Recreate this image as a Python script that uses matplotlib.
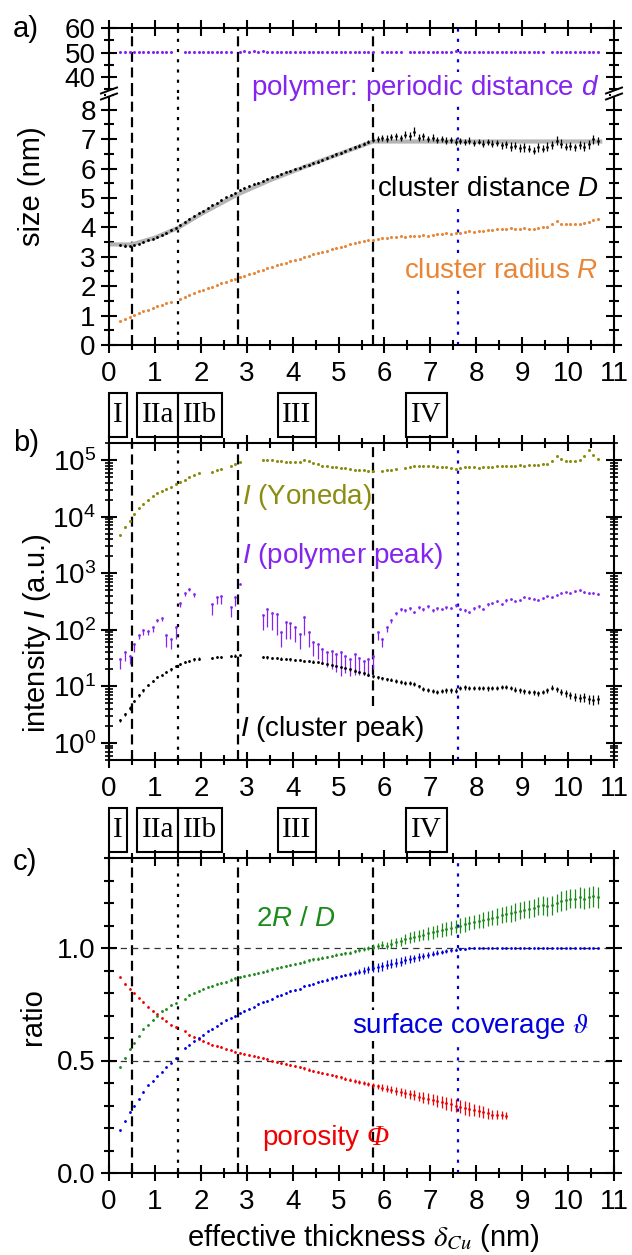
import numpy as np
import matplotlib
matplotlib.use("Agg")
import matplotlib.pyplot as plt
from matplotlib.patches import Rectangle
from matplotlib.lines import Line2D
from matplotlib.transforms import blended_transform_factory
from matplotlib.ticker import MultipleLocator, LogLocator, NullFormatter

plt.rcParams['font.family'] = ['Liberation Sans', 'DejaVu Sans']
plt.rcParams['mathtext.fontset'] = 'custom'
plt.rcParams['mathtext.rm'] = 'Liberation Sans'
plt.rcParams['mathtext.it'] = 'Liberation Sans:italic'
plt.rcParams['mathtext.bf'] = 'Liberation Sans:bold'

nan = np.nan

# effective thickness grid (nm), one row of values = 1 nm
thickness = np.round(np.arange(0.25, 10.7, 0.1), 2)

# a) sizes (nm)
poly_d = [50.3, 50.4, 50.3, 50.2, 50.3, 50.4, 50.3, 50.3, 50.2, 50.3,
          50.4, 50.3, nan, nan, 50.3, 50.4, 50.3, 50.2, 50.3, 50.4,
          50.3, 50.3, 50.4, 50.3, 50.4, nan, 50.4, 50.6, 50.4, 50.5,
          50.4, 50.5, 50.4, 50.3, 50.4, 50.3, 50.4, 50.3, 50.3, 50.4,
          50.3, 50.3, 50.4, 50.3, 50.3, 50.4, 50.3, 50.3, 50.3, 50.4,
          50.3, 50.3, 50.3, 50.4, 50.3, 50.3, nan, 50.4, 50.3, 50.3,
          50.3, 50.3, nan, 50.3, 50.3, 50.4, 50.3, 50.3, 50.4, 50.3,
          50.3, 50.3, 50.4, 50.5, 50.3, 50.4, 50.3, 50.4, 50.3, 50.4,
          50.3, 50.4, 50.3, 50.3, 50.4, 50.3, 50.3, 50.4, 50.3, 50.3,
          50.4, 50.3, 50.3, nan, 50.4, 50.3, 50.3, 50.4, 50.3, 50.3,
          50.4, 50.3, 50.3, 50.4, 50.3]

dist_D = [3.40, 3.38, 3.36, 3.40, 3.45, 3.50, 3.56, 3.62, 3.68, 3.74,
          3.82, 3.90, 3.98, 4.08, 4.18, 4.28, 4.38, 4.48, 4.57, 4.66,
          4.75, 4.84, 4.93, 5.02, 5.10, 5.18, 5.26, 5.33, 5.40, 5.46,
          5.52, 5.58, 5.64, 5.70, 5.76, 5.82, 5.88, 5.93, 5.98, 6.03,
          6.08, 6.13, 6.18, 6.24, 6.30, 6.36, 6.42, 6.48, 6.54, 6.60,
          6.66, 6.72, 6.78, 6.85, 6.92, 6.98, 7.00, 7.05, 7.02, 7.08,
          7.10, 7.05, 7.15, 7.12, 7.25, 7.05, 7.10, 7.00, 7.05, 6.98,
          7.00, 6.95, 6.98, 6.92, 6.95, 6.90, 6.95, 6.88, 6.92, 6.85,
          6.90, 6.85, 6.88, 6.80, 6.82, 6.75, 6.78, 6.70, 6.72, 6.68,
          6.60, 6.72, 6.68, 6.75, 6.80, 6.95, 6.85, 6.75, 6.78, 6.72,
          6.80, 6.75, 6.82, 7.00, 6.95]
dist_D_err = [0.04, 0.04, 0.03, 0.03, 0.03, 0.03, 0.03, 0.03, 0.03, 0.03,
              0.03, 0.03, 0.03, 0.03, 0.03, 0.03, 0.03, 0.03, 0.03, 0.03,
              0.03, 0.03, 0.03, 0.03, 0.03, 0.03, 0.03, 0.03, 0.03, 0.03,
              0.03, 0.03, 0.03, 0.03, 0.03, 0.03, 0.03, 0.03, 0.03, 0.03,
              0.04, 0.04, 0.04, 0.04, 0.04, 0.04, 0.04, 0.04, 0.04, 0.04,
              0.04, 0.04, 0.05, 0.05, 0.06, 0.08, 0.10, 0.10, 0.12, 0.10,
              0.12, 0.10, 0.12, 0.14, 0.15, 0.12, 0.12, 0.10, 0.12, 0.10,
              0.10, 0.12, 0.10, 0.12, 0.10, 0.10, 0.12, 0.10, 0.10, 0.12,
              0.10, 0.12, 0.10, 0.12, 0.12, 0.14, 0.12, 0.15, 0.14, 0.12,
              0.12, 0.14, 0.12, 0.14, 0.15, 0.16, 0.14, 0.12, 0.14, 0.12,
              0.14, 0.15, 0.16, 0.15, 0.14]

# model curve for D (grey line)
fit_x = [0.05, 0.5, 1.0, 1.5, 2.0, 2.8, 3.5, 4.5, 5.75, 10.7]
fit_D = [3.42, 3.42, 3.65, 3.98, 4.45, 5.12, 5.60, 6.20, 6.92, 6.92]

rad_R = [0.80, 0.88, 0.95, 1.02, 1.08, 1.14, 1.20, 1.26, 1.32, 1.37,
         1.42, 1.47, nan, 1.58, 1.64, 1.70, 1.76, 1.82, 1.88, 1.93,
         1.98, 2.04, 2.10, 2.15, 2.20, 2.26, 2.31, 2.36, 2.41, 2.46,
         2.51, 2.56, 2.61, 2.66, 2.71, 2.76, 2.80, 2.85, 2.90, 2.94,
         2.98, 3.03, 3.08, 3.12, 3.16, 3.20, 3.25, 3.30, 3.34, 3.38,
         3.42, 3.46, 3.50, 3.53, 3.56, 3.58, 3.61, 3.63, 3.64, 3.66,
         3.67, 3.70, 3.68, 3.72, 3.70, 3.72, 3.73, 3.72, 3.75, 3.76,
         3.78, 3.80, 3.79, 3.82, 3.82, 3.84, 3.86, 3.85, 3.88, 3.89,
         3.90, 3.92, 3.94, 3.93, 3.96, 3.98, 3.96, 3.95, 3.97, 3.95,
         3.95, 3.98, 4.00, 4.02, 4.10, 4.20, 4.12, 4.10, 4.10, 4.12,
         4.12, 4.15, 4.18, 4.25, 4.28]

# b) intensities (a.u.)
I_yoneda = [4800, 6500, 8500, 11000, 14000, 17000, 20000, 23000, 26000, 28000,
            31000, 34000, 37000, 41000, 45000, 50000, 55000, 58000, nan, nan,
            62000, 66000, 70000, nan, 78000, 85000, 92000, nan, nan, nan,
            nan, 100000, 102000, 100000, 97000, 95000, 94000, 93000, 92000, 93000,
            100000, 96000, 88000, 84000, 80000, 78000, 76000, 74000, 72000, 71000,
            70000, 68000, 67000, 66000, 65000, 65000, nan, 65000, 66000, 67000,
            70000, nan, 72000, 75000, 77000, 79000, 80000, 79000, 78000, 76000,
            75000, 74000, 72000, 70000, 73000, 74000, 75000, 74000, 73000, 74000,
            75000, 76000, 77000, 78000, 79000, 80000, 80000, 81000, 80000, 81000,
            82000, 83000, 84000, 85000, 95000, 118000, 105000, 97000, 95000, 96000,
            100000, 120000, 150000, 125000, 104000]

I_polymer = [30, 40, 35, 55, 80, 100, 95, 110, 150, 160,
             80, 70, 110, 300, 450, 520, 430, nan, nan, nan,
             280, 380, 400, nan, 250, 380, 650, nan, nan, nan,
             nan, 180, 230, 200, 190, 90, 140, 130, 110, 85,
             170, 90, 60, 55, 45, 40, 42, 38, 40, 35,
             30, 38, 32, 28, 30, 35, 90, 70, 110, 150,
             200, 230, 220, 240, 210, 250, 230, 260, 220, 240,
             230, 250, 240, 270, 230, 220, 210, 240, 260, 230,
             280, 300, 320, 290, 330, 350, 320, 340, 380, 360,
             350, 330, 370, 400, 380, 420, 450, 470, 440, 480,
             500, 460, 440, 450, 430]
I_polymer_err = [10, 12, 10, 15, 10, 20, 15, 20, 10, 15,
                 30, 25, 40, 50, 60, 40, 50, 0, 0, 0,
                 100, 100, 120, 0, 80, 120, 0, 0, 0, 0,
                 0, 80, 120, 100, 110, 40, 70, 60, 50, 40,
                 90, 40, 25, 25, 20, 18, 22, 20, 25, 18,
                 15, 22, 16, 12, 15, 15, 25, 20, 20, 20,
                 20, 15, 15, 15, 10, 15, 15, 15, 10, 15,
                 10, 15, 10, 15, 10, 10, 10, 15, 15, 10,
                 15, 15, 15, 10, 15, 15, 10, 15, 15, 10,
                 10, 10, 15, 10, 10, 15, 10, 10, 15, 10,
                 10, 15, 10, 10, 10]

I_cluster = [2.5, 3.2, 4.2, 5.5, 7.0, 8.5, 10.5, 12.5, 14.5, 16,
             18, 20, 23, 25, 27, 28.5, 30, 31, nan, nan,
             32, 33, 33, nan, 34, 35, 36, nan, nan, nan,
             nan, 33, 32.5, 32, 31.5, 31, 30.5, 30, 29.5, 29,
             28.5, 28, 27.5, 27, 26, 25, 24, 23, 22, 21,
             20, 19, 18, 17, 16, 15, 14.5, 14, 13.5, 13,
             12.5, 12, 11.5, 11.5, 11, 10, 9, 8.5, 8.2, 8,
             8.2, 8.5, 8.5, 8.4, 9.5, 9.6, 9.3, 9.4, 9.5, 9.3,
             9.2, 9.4, 9.5, 9.8, 9.7, 9.3, 8.8, 8.5, 8.2, 8,
             7.8, 7.5, 8, 8.5, 9.5, 9, 8, 7.5, 7, 6.5,
             6.2, 6.5, 6, 5.8, 6]
I_cluster_err = [0.2, 0.2, 0.3, 0.3, 0.4, 0.4, 0.5, 0.6, 0.7, 0.8,
                 0.9, 1.0, 1.0, 1.2, 1.2, 1.3, 1.4, 1.5, 0, 0,
                 1.5, 1.5, 1.5, 0, 1.6, 1.6, 1.7, 0, 0, 0,
                 0, 1.5, 1.5, 1.5, 1.5, 1.4, 1.4, 1.4, 1.4, 1.3,
                 1.3, 1.3, 1.3, 1.3, 1.2, 1.2, 1.2, 1.1, 1.1, 1.1,
                 1.0, 1.0, 1.0, 0.9, 0.9, 0.9, 0.9, 0.8, 0.8, 0.8,
                 0.8, 0.8, 0.8, 0.8, 0.8, 0.7, 0.7, 0.7, 0.7, 0.7,
                 0.7, 0.8, 0.8, 0.8, 0.8, 0.8, 0.8, 0.8, 0.8, 0.8,
                 0.8, 0.8, 0.8, 0.8, 0.8, 0.8, 0.8, 0.8, 0.8, 0.8,
                 0.8, 0.8, 0.8, 0.9, 0.9, 0.9, 0.9, 1.0, 1.0, 1.0,
                 1.0, 1.1, 1.1, 1.2, 1.1]

# c) ratios
ratio_2RD = [0.47, 0.51, 0.55, 0.58, 0.61, 0.64, 0.66, 0.68, 0.70, 0.72,
             0.73, 0.745, 0.755, nan, 0.775, 0.79, 0.80, 0.81, 0.82, 0.825,
             0.83, 0.84, 0.845, 0.85, 0.86, 0.865, 0.87, 0.875, 0.88, 0.885,
             0.89, 0.895, 0.90, 0.905, 0.91, 0.915, 0.92, 0.925, 0.93, 0.935,
             0.94, 0.945, 0.95, 0.953, 0.957, 0.96, 0.965, 0.97, 0.973, 0.977,
             0.98, 0.985, 0.99, 0.995, 1.0, 1.005, 1.01, 1.015, 1.01, 1.02,
             1.025, 1.03, 1.04, 1.045, 1.05, 1.055, 1.06, 1.065, 1.07, 1.075,
             1.08, 1.085, 1.09, 1.095, 1.10, 1.105, 1.11, 1.115, 1.12, 1.125,
             1.13, 1.135, 1.14, 1.145, 1.15, 1.155, 1.16, 1.165, 1.17, 1.175,
             1.18, 1.185, 1.19, 1.185, 1.19, 1.20, 1.21, 1.215, 1.22, 1.22,
             1.225, 1.22, 1.225, 1.23, 1.225]
ratio_2RD_err = [0.004, 0.004, 0.004, 0.004, 0.004, 0.004, 0.004, 0.004, 0.004, 0.004,
                 0.004, 0.004, 0.004, 0, 0.004, 0.004, 0.004, 0.004, 0.004, 0.004,
                 0.005, 0.005, 0.005, 0.005, 0.005, 0.005, 0.005, 0.005, 0.005, 0.005,
                 0.005, 0.005, 0.005, 0.005, 0.005, 0.005, 0.005, 0.005, 0.005, 0.005,
                 0.006, 0.006, 0.006, 0.006, 0.006, 0.006, 0.006, 0.006, 0.006, 0.006,
                 0.008, 0.008, 0.008, 0.010, 0.010, 0.012, 0.014, 0.014, 0.016, 0.018,
                 0.020, 0.020, 0.022, 0.024, 0.024, 0.026, 0.026, 0.028, 0.028, 0.028,
                 0.030, 0.030, 0.030, 0.030, 0.032, 0.032, 0.032, 0.032, 0.032, 0.034,
                 0.034, 0.034, 0.036, 0.036, 0.036, 0.038, 0.038, 0.038, 0.038, 0.040,
                 0.040, 0.040, 0.042, 0.042, 0.042, 0.042, 0.044, 0.044, 0.044, 0.044,
                 0.045, 0.045, 0.046, 0.046, 0.046]

coverage = [0.19, 0.23, 0.27, 0.30, 0.33, 0.36, 0.39, 0.41, 0.43, 0.45,
            0.47, 0.49, 0.51, nan, 0.555, 0.57, 0.585, 0.60, 0.615, 0.63,
            0.64, 0.655, 0.665, 0.68, 0.69, 0.70, 0.71, 0.72, 0.73, 0.74,
            0.75, 0.76, 0.765, 0.775, 0.785, 0.79, 0.80, 0.81, 0.815, 0.82,
            0.83, 0.835, 0.84, 0.85, 0.855, 0.86, 0.865, 0.87, 0.875, 0.88,
            0.885, 0.89, 0.895, 0.90, 0.905, 0.91, 0.915, 0.92, 0.925, 0.93,
            0.935, 0.94, 0.945, 0.95, 0.955, 0.96, 0.965, 0.97, 0.975, 0.98,
            0.983, 0.987, 0.99, 0.993, 0.995, 0.997, 0.998, 0.999, 1.0, 1.0,
            1.0, 1.0, 1.0, 1.0, 1.0, 1.0, 1.0, 1.0, 1.0, 1.0,
            1.0, 1.0, 1.0, 1.0, 1.0, 1.0, 1.0, 1.0, 1.0, 1.0,
            1.0, 1.0, 1.0, 1.0, 1.0]
coverage_err = [0.003, 0.003, 0.003, 0.003, 0.003, 0.003, 0.003, 0.003, 0.003, 0.003,
                0.003, 0.003, 0.003, 0, 0.003, 0.003, 0.003, 0.003, 0.003, 0.003,
                0.003, 0.003, 0.003, 0.003, 0.003, 0.003, 0.003, 0.003, 0.003, 0.003,
                0.004, 0.004, 0.004, 0.004, 0.004, 0.004, 0.004, 0.004, 0.004, 0.004,
                0.005, 0.005, 0.005, 0.005, 0.005, 0.006, 0.006, 0.006, 0.006, 0.006,
                0.008, 0.010, 0.012, 0.014, 0.016, 0.018, 0.020, 0.020, 0.020, 0.020,
                0.020, 0.020, 0.018, 0.018, 0.016, 0.016, 0.014, 0.014, 0.012, 0.012,
                0.010, 0.008, 0.006, 0.005, 0.004, 0.004, 0.003, 0.003, 0.002, 0.002,
                0.002, 0.002, 0.002, 0.002, 0.002, 0.002, 0.002, 0.002, 0.002, 0.002,
                0.002, 0.002, 0.002, 0.002, 0.002, 0.002, 0.002, 0.002, 0.002, 0.002,
                0.002, 0.002, 0.002, 0.002, 0.002]

porosity = [0.87, 0.84, 0.82, 0.80, 0.78, 0.76, 0.74, 0.72, 0.705, 0.69,
            0.675, 0.66, 0.65, nan, 0.63, 0.615, 0.605, 0.595, 0.585, 0.58,
            0.57, 0.565, 0.56, 0.55, 0.545, 0.54, 0.535, 0.53, 0.525, 0.52,
            0.515, 0.51, 0.505, 0.50, 0.495, 0.49, 0.485, 0.48, 0.475, 0.47,
            0.465, 0.46, 0.455, 0.45, 0.445, 0.44, 0.435, 0.43, 0.425, 0.42,
            0.415, 0.41, 0.405, 0.40, 0.395, 0.39, 0.385, 0.38, 0.375, 0.37,
            0.365, 0.36, 0.355, 0.35, 0.345, 0.34, 0.335, 0.33, 0.325, 0.32,
            0.315, 0.31, 0.305, 0.30, 0.295, 0.29, 0.285, 0.28, 0.275, 0.27,
            0.265, 0.26, 0.258, 0.256, 0.255, nan, nan, nan, nan, nan,
            nan, nan, nan, nan, nan, nan, nan, nan, nan, nan,
            nan, nan, nan, nan, nan]
porosity_err = [0.003, 0.003, 0.003, 0.003, 0.003, 0.003, 0.003, 0.003, 0.003, 0.003,
                0.003, 0.003, 0.003, 0, 0.003, 0.003, 0.003, 0.003, 0.003, 0.003,
                0.003, 0.003, 0.003, 0.003, 0.003, 0.003, 0.003, 0.003, 0.003, 0.003,
                0.004, 0.004, 0.004, 0.004, 0.004, 0.004, 0.004, 0.004, 0.004, 0.004,
                0.005, 0.005, 0.005, 0.005, 0.005, 0.006, 0.006, 0.006, 0.006, 0.006,
                0.006, 0.008, 0.008, 0.010, 0.010, 0.012, 0.012, 0.014, 0.014, 0.016,
                0.018, 0.018, 0.020, 0.020, 0.022, 0.022, 0.024, 0.024, 0.024, 0.026,
                0.026, 0.028, 0.028, 0.030, 0.030, 0.030, 0.030, 0.028, 0.026, 0.026,
                0.024, 0.022, 0.020, 0.018, 0.016, 0, 0, 0, 0, 0,
                0, 0, 0, 0, 0, 0, 0, 0, 0, 0,
                0, 0, 0, 0, 0]

# growth regimes
guide_x = [0.5, 1.5, 2.8, 5.75, 7.6]
regime_names = ['I', 'IIa', 'IIb', 'III', 'IV']
regime_left = [0.0, 0.62, 1.51, 3.69, 6.48]
regime_right = [0.40, 1.51, 2.46, 4.50, 7.36]

PURPLE = '#8424f0'
ORANGE = '#ea8535'
OLIVE = '#8c8c12'
GREEN = '#1c8a1c'
BLUE = '#0000e0'
RED = '#f00000'
SERIF = ['Liberation Serif', 'DejaVu Serif']
WHITE_BOX = dict(facecolor='white', edgecolor='none', pad=0.5)

FW, FH = 632, 1255
fig = plt.figure(figsize=(FW / 100, FH / 100), dpi=100)


def rect(top, bottom, left=109, right=614):
    return [left / FW, 1 - bottom / FH, (right - left) / FW, (bottom - top) / FH]


ax_a = fig.add_axes(rect(93, 345))
ax_top = fig.add_axes(rect(28, 93))
ax_b = fig.add_axes(rect(443, 760))
ax_c = fig.add_axes(rect(858, 1173))
ax_top.set_zorder(2)
ax_top.set_facecolor('none')


def style(ax):
    ax.set_xlim(0, 11)
    ax.xaxis.set_major_locator(MultipleLocator(1))
    ax.xaxis.set_minor_locator(MultipleLocator(0.5))
    ax.tick_params(which='both', direction='inout', width=1.5, labelsize=20,
                   top=True, right=True)
    ax.tick_params(which='major', length=11)
    ax.tick_params(which='minor', length=7)
    ax.tick_params(axis='x', pad=6)
    ax.tick_params(axis='y', pad=4)
    for s in ax.spines.values():
        s.set_linewidth(1.5)


def guides(ax, ymin5=0.0):
    dash = (0, (4.5, 2.5))
    dot = (0, (1.4, 3.2))
    ax.axvline(guide_x[0], color='k', lw=1.6, ls=dash, zorder=1)
    ax.axvline(guide_x[1], color='k', lw=1.6, ls=dot, zorder=1)
    ax.axvline(guide_x[2], color='k', lw=1.6, ls=dash, zorder=1)
    ax.axvline(guide_x[3], color='k', lw=1.6, ls=dash, zorder=1, ymin=ymin5)
    ax.axvline(guide_x[4], color=BLUE, lw=1.6, ls=dot, zorder=1)


def regimes(ax):
    tr = blended_transform_factory(ax.transData, ax.transAxes)
    for name, x0, x1 in zip(regime_names, regime_left, regime_right):
        ax.add_patch(Rectangle((x0, 1.018), x1 - x0, 0.14, transform=tr,
                               fill=False, lw=1.5, ec='k', clip_on=False))
        ax.text((x0 + x1) / 2, 1.088, name, transform=tr, ha='center', va='center',
                fontsize=21, family=SERIF)


ebkw = dict(fmt='o', ms=2.0, mew=0, elinewidth=0.9, capsize=0)

# ---- panel a ----
for ax in (ax_top, ax_a):
    style(ax)
    guides(ax)
ax_top.spines['bottom'].set_visible(False)
ax_a.spines['top'].set_visible(False)
ax_top.tick_params(axis='x', which='both', bottom=False, labelbottom=False)
ax_a.tick_params(axis='x', which='both', top=False)
ax_top.set_ylim(33.5, 60)
ax_top.set_yticks([40, 50, 60])
ax_top.yaxis.set_minor_locator(MultipleLocator(5))
ax_a.set_ylim(0, 8.57)
ax_a.yaxis.set_major_locator(MultipleLocator(1))
ax_a.yaxis.set_minor_locator(MultipleLocator(0.5))

ax_top.plot(thickness, poly_d, 'o', ms=2.2, mew=0, color=PURPLE, zorder=3)
ax_a.plot(fit_x, fit_D, color='#b4b4b4', lw=3, zorder=2)
ax_a.errorbar(thickness, dist_D, yerr=dist_D_err, color='k', zorder=3, **ebkw)
ax_a.plot(thickness, rad_R, 'o', ms=2.2, mew=0, color=ORANGE, zorder=3)

tr_top = blended_transform_factory(ax_top.transData, ax_top.transAxes)
ax_top.text(10.68, 0.08, 'polymer: periodic distance $d$', transform=tr_top,
            ha='right', va='center', fontsize=20, color=PURPLE, zorder=5, bbox=WHITE_BOX)
ax_a.text(10.66, 5.3, 'cluster distance $D$', ha='right', va='center',
          fontsize=20, color='k', zorder=4, bbox=WHITE_BOX)
ax_a.text(10.66, 2.52, 'cluster radius $R$', ha='right', va='center',
          fontsize=20, color=ORANGE, zorder=4, bbox=WHITE_BOX)

# axis break marks
for xp in (109, 614):
    fig.add_artist(Rectangle(((xp - 3) / FW, 1 - 97 / FH), 6 / FW, 7 / FH,
                             color='white', lw=0, zorder=10))
    for dy in (-2.5, 3.5):
        fig.add_artist(Line2D([(xp - 8) / FW, (xp + 8) / FW],
                              [1 - (93 + dy + 3) / FH, 1 - (93 + dy - 3) / FH],
                              color='k', lw=1.4, zorder=11))

# ---- panel b ----
style(ax_b)
guides(ax_b, ymin5=0.17)
ax_b.set_yscale('log')
ax_b.set_ylim(0.5, 2e5)
ax_b.yaxis.set_major_locator(LogLocator(base=10, numticks=12))
ax_b.yaxis.set_minor_locator(LogLocator(base=10, subs=np.arange(2, 10), numticks=12))
ax_b.yaxis.set_minor_formatter(NullFormatter())
ax_b.tick_params(axis='y', which='minor', length=6, width=1.2)

ax_b.plot(thickness, I_yoneda, 'o', ms=2.2, mew=0, color=OLIVE, zorder=3)
ax_b.errorbar(thickness, I_polymer, yerr=[I_polymer_err, np.zeros(len(I_polymer_err))],
              color=PURPLE, zorder=3, **ebkw)
ax_b.errorbar(thickness, I_cluster, yerr=I_cluster_err, color='k', zorder=3, **ebkw)

ax_b.text(2.9, 10 ** 4.35, '$I$ (Yoneda)', ha='left', va='center', fontsize=20, color=OLIVE)
ax_b.text(2.9, 10 ** 3.3, '$I$ (polymer peak)', ha='left', va='center', fontsize=20, color=PURPLE)
ax_b.text(2.86, 10 ** 0.24, '$I$ (cluster peak)', ha='left', va='center', fontsize=20, color='k')
regimes(ax_b)

# ---- panel c ----
style(ax_c)
guides(ax_c)
ax_c.set_ylim(0, 1.4)
ax_c.set_yticks([0.0, 0.5, 1.0])
ax_c.yaxis.set_minor_locator(MultipleLocator(0.1))
ax_c.yaxis.set_major_formatter(plt.FormatStrFormatter('%.1f'))
for yh in (0.5, 1.0):
    ax_c.axhline(yh, color='#333333', lw=0.9, ls=(0, (5, 4)), zorder=1)

ax_c.errorbar(thickness, porosity, yerr=porosity_err, color=RED, zorder=3, **ebkw)
ax_c.errorbar(thickness, ratio_2RD, yerr=ratio_2RD_err, color=GREEN, zorder=3, **ebkw)
ax_c.errorbar(thickness, coverage, yerr=coverage_err, color=BLUE, zorder=3, **ebkw)

ax_c.text(3.2, 1.127, '$2R$ / $D$', ha='left', va='center', fontsize=20, color=GREEN)
ax_c.text(10.46, 0.655, 'surface coverage $\\vartheta$', ha='right', va='center',
          fontsize=20, color=BLUE, math_fontfamily='stix', zorder=4, bbox=WHITE_BOX)
t_por = ax_c.text(3.34, 0.155, 'porosity', ha='left', va='center', fontsize=20, color=RED)
ax_c.annotate('\u03a6', xy=(1, 0.5), xycoords=t_por, xytext=(5, 0),
              textcoords='offset points', ha='left', va='center', fontsize=21,
              color=RED, family=SERIF, style='italic')
regimes(ax_c)

# ---- labels ----
fig.text(32 / FW, 1 - 186 / FH, 'size (nm)', rotation=90, ha='center', va='center', fontsize=21)
fig.text(37 / FW, 1 - 633 / FH, 'intensity $I$ (a.u.)', rotation=90, ha='center',
         va='center', fontsize=21)
fig.text(33 / FW, 1 - 1017 / FH, 'ratio', rotation=90, ha='center', va='center', fontsize=21)
fig.text(363 / FW, 1 - 1238 / FH, 'effective thickness $\\delta_{Cu}$ (nm)', ha='center',
         va='center', fontsize=21, math_fontfamily='stix')
fig.text(26 / FW, 1 - 29 / FH, 'a)', ha='center', va='center', fontsize=21)
fig.text(26 / FW, 1 - 443 / FH, 'b)', ha='center', va='center', fontsize=21)
fig.text(25 / FW, 1 - 862 / FH, 'c)', ha='center', va='center', fontsize=21)

fig.savefig('out.png', dpi=100)
